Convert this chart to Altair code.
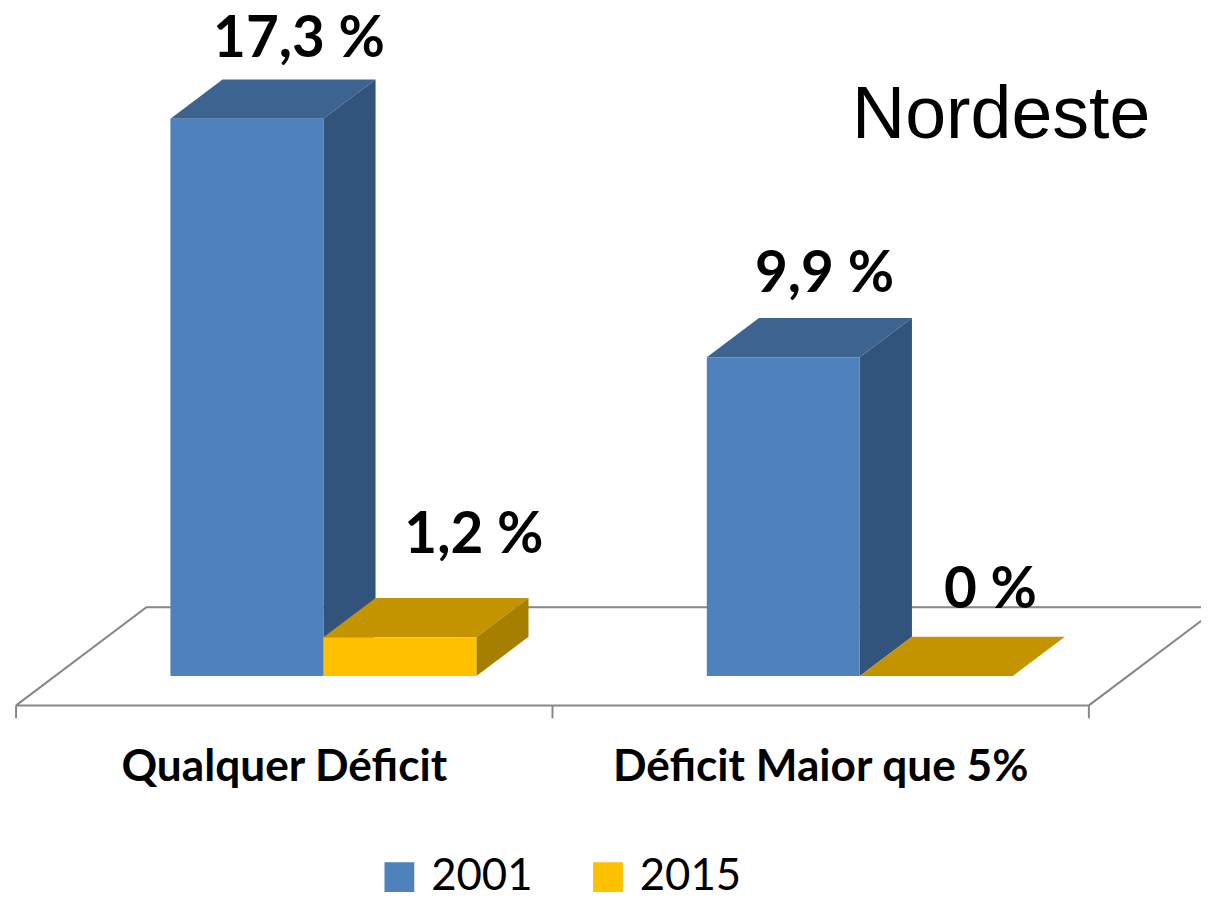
import altair as alt
import pandas as pd

# ---------------- data ----------------
categories = ["Qualquer Déficit", "Déficit Maior que 5%"]
series = ["2001", "2015"]
values_2001 = [17.3, 9.9]
values_2015 = [1.2, 0.0]
labels_2001 = ["17,3 %", "9,9 %"]
labels_2015 = ["1,2 %", "0 %"]
title_text = "Nordeste"

# ---------------- styles ----------------
W, H = 1201, 884
PX_X = 540.0     # pixels per category step
PX_Y = 32.42     # pixels per percentage point
X0_PX = 317.5    # view pixel of category 0 centre (front plane)
Y0_PX = 669.5    # view pixel of value 0
xmin = -X0_PX / PX_X
xmax = xmin + W / PX_X
ymax = Y0_PX / PX_Y
ymin = ymax - H / PX_Y
BW = 154.0 / PX_X        # bar width
DDX = 52.5 / PX_X        # 3D depth, horizontal
DDY = 39.5 / PX_Y        # 3D depth, vertical
front_col = {"2001": "#4F81BD", "2015": "#FFC000"}
top_col = {"2001": "#3D6391", "2015": "#C49300"}
side_col = {"2001": "#32537C", "2015": "#A67F00"}
floor_col = "#878787"
# label nudges in px: (dx, gap above top face back edge)
nudge = {"2001": [(0, 23), (-11, 26)], "2015": [(22, 45), (2, 29)]}

xsc = alt.Scale(domain=[xmin, xmax], nice=False, zero=False)
ysc = alt.Scale(domain=[ymin, ymax], nice=False, zero=False)

vals = {"2001": values_2001, "2015": values_2015}
labs = {"2001": labels_2001, "2015": labels_2015}

front_rows, top_rows, side_rows, lab_rows = [], [], [], []
for s in series:
    for i, (c, v) in enumerate(zip(categories, vals[s])):
        x0 = i - BW if s == "2001" else i
        x1 = x0 + BW
        fid = f"{s}-{i}"
        front_rows.append(dict(series=s, x0=x0, x1=x1, y0=0.0, v=v))
        top_rows += [dict(series=s, id=fid, y=v, xa=x0, xb=x1),
                     dict(series=s, id=fid, y=v + DDY, xa=x0 + DDX, xb=x1 + DDX)]
        side_rows += [dict(series=s, id=fid, x=x1, ya=0.0, yb=v),
                      dict(series=s, id=fid, x=x1 + DDX, ya=DDY, yb=v + DDY)]
        ndx, ngap = nudge[s][i]
        lab_rows.append(dict(series=s, label=labs[s][i],
                             x=(x0 + x1) / 2 + DDX + ndx / PX_X,
                             y=v + DDY + ngap / PX_Y))

front_df = pd.DataFrame(front_rows)
top_df = pd.DataFrame(top_rows)
side_df = pd.DataFrame(side_rows)
lab_df = pd.DataFrame(lab_rows)

# floor (outline) and axis ticks
n = len(categories)
bl, br = -0.5, n - 0.5
floor_df = pd.DataFrame([
    dict(k=0, x=bl - 0.75 * DDX, y=-0.75 * DDY),
    dict(k=1, x=bl + 1.75 * DDX, y=1.75 * DDY),
    dict(k=2, x=br + 1.75 * DDX, y=1.75 * DDY),
    dict(k=3, x=br - 0.75 * DDX, y=-0.75 * DDY),
    dict(k=4, x=bl - 0.75 * DDX, y=-0.75 * DDY),
])
tick_df = pd.DataFrame([dict(x=b - 0.75 * DDX, y=-0.75 * DDY, y2=-0.75 * DDY - 13 / PX_Y)
                        for b in [bl + k for k in range(n + 1)]])
cat_df = pd.DataFrame([dict(cat=c, x=i - 0.75 * DDX, y=-0.75 * DDY - 76 / PX_Y)
                       for i, c in enumerate(categories)])
title_df = pd.DataFrame({"t": [title_text]})

X = lambda f: alt.X(f, scale=xsc, axis=None)
Y = lambda f: alt.Y(f, scale=ysc, axis=None)

floor = alt.Chart(floor_df).mark_line(color=floor_col, strokeWidth=2, clip=True).encode(
    x=X("x:Q"), y=Y("y:Q"), order="k:Q")
ticks = alt.Chart(tick_df).mark_rule(color=floor_col, strokeWidth=2).encode(
    x=X("x:Q"), y=Y("y:Q"), y2="y2:Q")

layers = [floor, ticks]
for s in series:
    top = alt.Chart(top_df[top_df.series == s]).mark_area(
        orient="horizontal", color=top_col[s]).encode(
        y=Y("y:Q"), x=alt.X("xa:Q", scale=xsc, axis=None, stack=None), x2="xb:Q", detail="id:N")
    side = alt.Chart(side_df[side_df.series == s]).mark_area(
        orient="vertical", color=side_col[s]).encode(
        x=X("x:Q"), y=alt.Y("ya:Q", scale=ysc, axis=None, stack=None), y2="yb:Q", detail="id:N")
    front = alt.Chart(front_df[front_df.series == s]).mark_rect().encode(
        x=X("x0:Q"), x2="x1:Q", y=Y("y0:Q"), y2="v:Q",
        color=alt.Color("series:N",
                        scale=alt.Scale(domain=series, range=[front_col[k] for k in series]),
                        legend=alt.Legend(orient="none", legendX=372, legendY=850,
                                          direction="horizontal", title=None,
                                          symbolType="square", symbolSize=900,
                                          symbolStrokeWidth=0, labelFont="Lato",
                                          labelFontSize=44, labelColor="black",
                                          labelOffset=10, columnPadding=53)))
    layers += [top, side, front]

value_labels = alt.Chart(lab_df).mark_text(
    font="Lato", fontWeight="bold", fontSize=57, align="center", baseline="alphabetic",
    color="black").encode(x=X("x:Q"), y=Y("y:Q"), text="label:N")
cat_labels = alt.Chart(cat_df).mark_text(
    font="Lato", fontWeight="bold", fontSize=44.5, align="center", baseline="alphabetic",
    color="black").encode(x=X("x:Q"), y=Y("y:Q"), text="cat:N")
title = alt.Chart(title_df).mark_text(
    font="Liberation Sans", fontSize=74, align="right", baseline="alphabetic",
    color="black").encode(x=alt.value(1150), y=alt.value(128), text="t:N")

layers += [value_labels, cat_labels, title]

chart = alt.layer(*layers).properties(
    width=W, height=H, padding=0, autosize="none", background="white"
).configure_view(stroke=None)

chart.save("out.html", embed_options={"renderer": "svg", "actions": False})
